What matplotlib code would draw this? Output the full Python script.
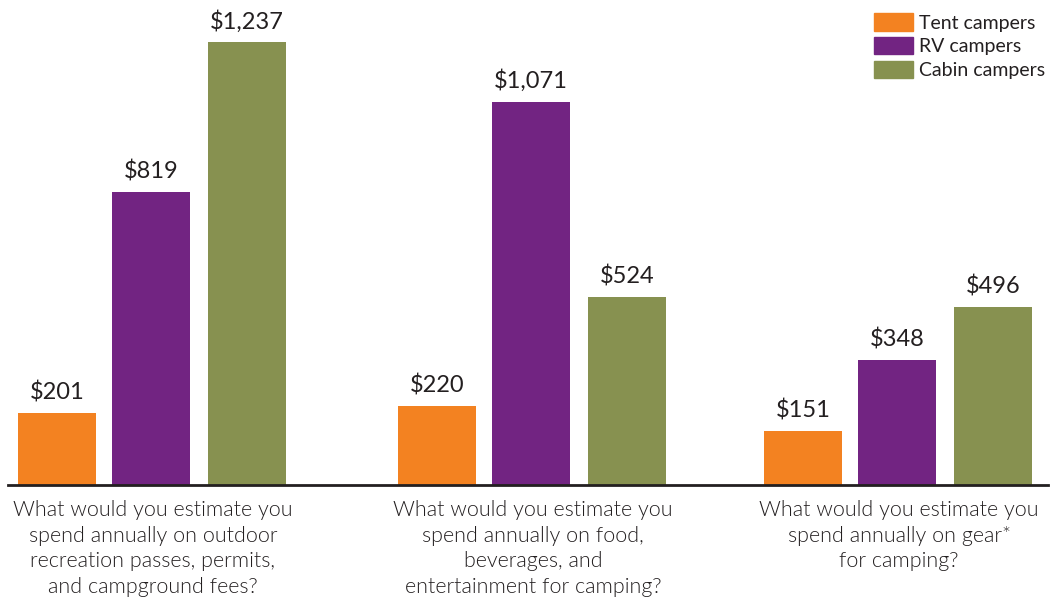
import matplotlib.pyplot as plt
from matplotlib.patches import Patch

# spending per camper type, one value per question
questions = [
    "What would you estimate you\nspend annually on outdoor\nrecreation passes, permits,\nand campground fees?",
    "What would you estimate you\nspend annually on food,\nbeverages, and\nentertainment for camping?",
    "What would you estimate you\nspend annually on gear*\nfor camping?",
]
series = ["Tent campers", "RV campers", "Cabin campers"]
tent = [201, 220, 151]
rv = [819, 1071, 348]
cabin = [1237, 524, 496]

colors = ["#F38221", "#722482", "#879150"]
text_color = "#231F20"
plt.rcParams['font.family'] = ['Lato', 'DejaVu Sans']

fig = plt.figure(figsize=(10.61, 6.03), dpi=100)
# axes in pixel-like units: x 0..1061, baseline at 485px from top
ax = fig.add_axes([0, 118 / 603, 1, 485 / 603])
ax.set_xlim(0, 1061)
ax.set_ylim(0, 485 / 0.358)
ax.axis('off')

group_x = [151, 531, 897]
offsets = [-94, 0, 96]
bar_w = 78

for vals, off, col, name in zip([tent, rv, cabin], offsets, colors, series):
    xs = [g + off for g in group_x]
    bars = ax.bar(xs, vals, width=bar_w, color=col, label=name)
    for x, v in zip(xs, vals):
        ax.annotate(f"${v:,}", (x, v), xytext=(0, 7), textcoords='offset points',
                    ha='center', va='bottom', fontsize=17, color=text_color)

# baseline
ax.plot([8, 1048], [0, 0], color=text_color, lw=2, clip_on=False)

# question labels under each group
for g, q in zip(group_x, questions):
    ax.annotate(q, (g + 2, 0), xytext=(0, -11), textcoords='offset points',
                ha='center', va='top', fontsize=15.5, color=text_color,
                fontweight=300, linespacing=1.34)

handles = [Patch(color=c) for c in colors]
fig.legend(handles, series, loc='upper right', bbox_to_anchor=(1.0, 1.004),
           frameon=False, fontsize=14, handlelength=2.0, handleheight=1.0,
           handletextpad=0.35, labelspacing=0.28, borderaxespad=0.4,
           labelcolor=text_color)

fig.savefig('out.png', dpi=100)
